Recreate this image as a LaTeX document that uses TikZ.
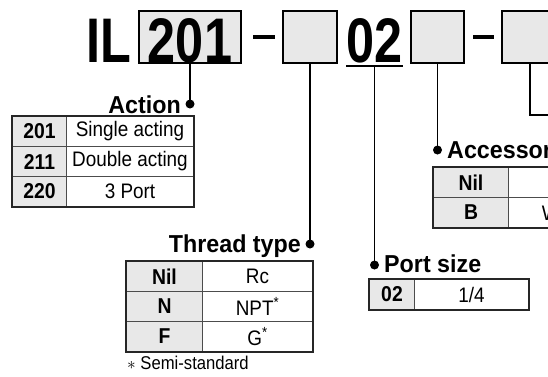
\documentclass[tikz,border=0pt]{standalone}
\usepackage{fontspec}
\setmainfont{Liberation Sans}
\newfontfamily\titlefont[FakeStretch=0.8]{Liberation Sans}
\newfontfamily\cellfont[FakeStretch=0.9]{Liberation Sans}
\newfontfamily\labelfont[FakeStretch=0.95]{Liberation Sans}
\usetikzlibrary{positioning}

\begin{document}
\begin{tikzpicture}[
    x = 1pt, y = -1pt,
    every node/.style = {font=\cellfont\fontsize{21}{24}\selectfont, inner sep=0pt},
    codebox/.style    = {draw, line width=1.6pt, fill=black!9, minimum height=52pt},
    bigtxt/.style     = {font=\titlefont\bfseries\fontsize{63}{63}\selectfont, anchor=base},
    minusbar/.style   = {fill, minimum height=4.5pt},
    hdcell/.style     = {draw=black!70, line width=1pt, fill=black!9, minimum height=30pt,
                         anchor=north west, font=\cellfont\bfseries\fontsize{21.5}{24}\selectfont},
    txtcell/.style    = {draw=black!70, line width=1pt, minimum height=30pt, anchor=north west},
    frame/.style      = {draw=black!85, line width=1.8pt},
    title/.style      = {font=\labelfont\bfseries\fontsize{24.5}{28}\selectfont},
    lead/.style       = {draw, line width=1.5pt},
    dot/.style        = {circle, fill, minimum size=9pt, inner sep=0pt}
  ]
\useasboundingbox (0,0) rectangle (548,376);
\fill[white] (0,0) rectangle (548,376);
\clip (0,0) rectangle (548,376);

% model code
\node[bigtxt] (il) at (108.5,62) {IL};
\node[codebox, minimum width=102pt] (b1) at (190,37) {};
\node[bigtxt] (n201) at (190,62) {201};
\node[minusbar, minimum width=22pt] (m1) at (264,37) {};
\node[codebox, minimum width=54pt] (b2) at (310,37) {};
\node[bigtxt] (n02) at (374.5,62) {02};
\coordinate (u1) at (346,66);
\coordinate (u2) at (403,66);
\node[codebox, minimum width=53pt] (b3) at (437.5,37) {};
\node[minusbar, minimum width=21pt] (m2) at (483.5,37) {};
\node[codebox, minimum width=56pt] (b4) at (530,37) {};
\coordinate (e4) at (548,115);

% action
\node[dot] (d1) at (190,104) {};
\node[title, anchor=base east] (act) at (181,113) {Action};
\node[hdcell, minimum width=54pt] (a1) at (12,116) {201};
\node[txtcell, minimum width=127pt] (a1t) at (66,116) {Single acting};
\node[hdcell, minimum width=54pt] (a2) at (12,146) {211};
\node[txtcell, minimum width=127pt] (a2t) at (66,146) {Double acting};
\node[hdcell, minimum width=54pt] (a3) at (12,176) {220};
\node[txtcell, minimum width=127pt] (a3t) at (66,176) {3 Port};
\draw[frame] (a1.north west) rectangle (a3t.south east);

% thread type
\node[dot] (d2) at (310,244) {};
\node[title, anchor=base east] (thr) at (301,252) {Thread type};
\node[hdcell, minimum width=76pt] (t1) at (126,261) {Nil};
\node[txtcell, minimum width=110pt] (t1t) at (202,261) {Rc};
\node[hdcell, minimum width=76pt] (t2) at (126,291) {N};
\node[txtcell, minimum width=110pt] (t2t) at (202,291) {NPT\textsuperscript{*}};
\node[hdcell, minimum width=76pt] (t3) at (126,321) {F};
\node[txtcell, minimum width=110pt] (t3t) at (202,321) {G\textsuperscript{*}};
\draw[frame] (t1.north west) rectangle (t3t.south east);
\node[anchor=base west, font=\cellfont\fontsize{18.5}{20}\selectfont] (semi) at (127,369) {$\ast$ Semi-standard};

% port size
\node[dot] (d3) at (374.5,265) {};
\node[title, anchor=base west] (prt) at (384,272) {Port size};
\node[hdcell, minimum width=45pt] (p1) at (369,279) {02};
\node[txtcell, minimum width=114pt] (p1t) at (414,279) {1/4};
\draw[frame] (p1.north west) rectangle (p1t.south east);

% accessory
\node[dot] (d4) at (437.5,150) {};
\node[title, anchor=base west] (acc) at (447,158) {Accessory};
\node[hdcell, minimum width=75pt] (c1) at (433,167) {Nil};
\node[txtcell, minimum width=172pt] (c1t) at (508,167) {};
\node[hdcell, minimum width=75pt] (c2) at (433,197) {B};
\node[txtcell, minimum width=172pt] (c2t) at (508,197) {With bracket};
\draw[frame] (c1.north west) rectangle (c2t.south east);

% leaders
\draw[lead] (b1.south) -- (d1.center);
\draw[lead] (b2.south) -- (d2.center);
\draw[line width=2pt] (u1) -- (u2);
\draw[lead] (d3 |- u1) -- (d3.center);
\draw[lead] (b3.south) -- (d4.center);
\draw[lead] (b4.south) |- (e4);
\end{tikzpicture}
\end{document}
